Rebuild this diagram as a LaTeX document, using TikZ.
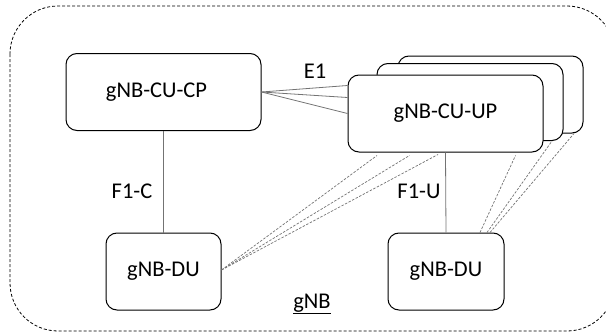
\documentclass[tikz,border=0pt]{standalone}
\usepackage{fontspec}
\setmainfont{Carlito}

\begin{document}
\begin{tikzpicture}[x=1pt,y=-1pt]

\tikzset{entity/.style = {shape=rectangle,draw,rounded corners=11pt,line width=1pt,fill=white,minimum width=#1,minimum height=77pt,inner sep=0pt,font=\fontsize{22.5}{27}\selectfont}}
\tikzset{lbl/.style = {anchor=base,font=\fontsize{22.5}{27}\selectfont}}
\tikzset{iface/.style = {draw=black!55,line width=0.8pt}}
\tikzset{lnk/.style = {draw=black!55,line width=0.7pt,dash pattern=on 2.5pt off 1.5pt}}

\useasboundingbox (0,0) rectangle (606,332);
\clip (0,0) rectangle (606,332);
%gNB frame
\draw[line width=0.8pt,dash pattern=on 3pt off 2pt,rounded corners=48pt] (10,6) rectangle (615,331);
%units
\node[entity=195pt] (cucp) at (163.5,92) {\hspace*{-14pt}gNB-CU-CP};
\node[entity=185pt] (up3) at (490.5,94.5) {};
\node[entity=186pt] (up2) at (470,102) {};
\node[entity=195pt] (up1) at (445.5,113.5) {gNB-CU-UP};
\node[entity=115pt] (du1) at (163.5,271.5) {gNB-DU};
\node[entity=116pt] (du2) at (446,271.5) {gNB-DU};
%labels
\node[lbl] (e1) at (315,78) {E1};
\node[lbl] (f1c) at (132,198) {F1-C};
\node[lbl] (f1u) at (419,198) {F1-U};
\node[lbl] (gnb) at (312,308) {\underline{gNB}};
%E1
\draw[iface] (cucp.east) -- ([yshift=28pt]up1.west);
\draw[iface] (cucp.east) -- ([yshift=16pt]up1.west);
\draw[iface] (cucp.east) -- (up1.west);
%F1
\draw[iface] (cucp.south) -- (du1.north);
\draw[iface] (up1.south) -- (du2.north);
%F1-U to the other CU-UPs
\draw[lnk] ([yshift=1.5pt]du1.east) -- ([xshift=-68.5pt,yshift=-3pt]up1.south);
\draw[lnk] ([yshift=1.5pt]du1.east) -- ([xshift=-36pt,yshift=-3pt]up1.south);
\draw[lnk] ([yshift=1.5pt]du1.east) -- ([xshift=-7.5pt,yshift=-2pt]up1.south);
\draw[lnk] ([xshift=34pt]du2.north) -- ([xshift=70pt,yshift=-3pt]up1.south);
\draw[lnk] ([xshift=41pt]du2.north) -- ([xshift=82pt]up2.south);
\draw[lnk] ([xshift=44pt]du2.north) -- ([xshift=83.5pt]up3.south);

\end{tikzpicture}
\end{document}
